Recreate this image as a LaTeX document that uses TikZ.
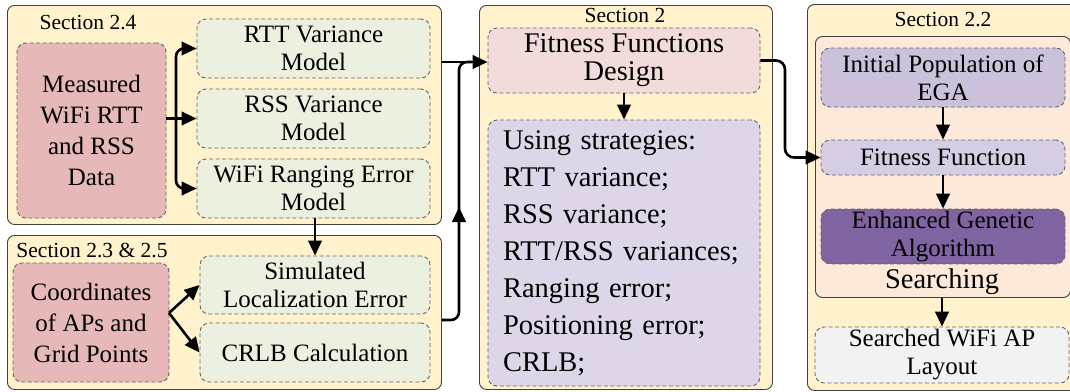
\documentclass[tikz,border=0pt]{standalone}
\usepackage{fontspec}
\setmainfont{Liberation Serif}
\usetikzlibrary{arrows.meta,calc}
\definecolor{secfill}{HTML}{FFF2CC}
\definecolor{secline}{HTML}{404040}
\definecolor{dashgray}{HTML}{666666}
\definecolor{redfill}{HTML}{E6B9B8}
\definecolor{greenfill}{HTML}{EBF1DE}
\definecolor{pinkfill}{HTML}{F2DCDB}
\definecolor{lavfill}{HTML}{DED6E8}
\definecolor{peachfill}{HTML}{FDE9D9}
\definecolor{purpfill}{HTML}{CCC1DA}
\definecolor{purplight}{HTML}{D6CCE3}
\definecolor{purpdark}{HTML}{8064A2}
\definecolor{grayfill}{HTML}{F2F2F2}
\newcommand{\fsBox}{\fontsize{25}{28}\selectfont}
\newcommand{\fsSec}{\fontsize{21.5}{24}\selectfont}
\newcommand{\fsBig}{\fontsize{28.5}{28}\selectfont}
\tikzset{
  sec/.style={draw=secline, fill=secfill, rounded corners=7pt, line width=0.9pt, inner sep=0pt},
  dbox/.style={draw=dashgray, dash pattern=on 4pt off 2.5pt, rounded corners=9pt, line width=0.9pt,
    align=center, inner sep=2pt, font=\fsBox},
  seclabel/.style={font=\fsSec, inner sep=0pt},
  conn/.style={line width=2.6pt, black},
  arr/.style={conn, -{Triangle[length=15pt,width=13.5pt]}},
}
\begin{document}
\begin{tikzpicture}[x=1pt,y=-1pt]
\fill[white] (0,0) rectangle (1070,391);
\useasboundingbox (0,0) rectangle (1070,391);

% section boxes
\node[sec, anchor=north west, minimum width=434pt, minimum height=219pt] (s24) at (7,5) {};
\node[sec, anchor=north west, minimum width=434pt, minimum height=154pt] (s235) at (7,235) {};
\node[sec, anchor=north west, minimum width=293pt, minimum height=384pt] (s2) at (479,5) {};
\node[sec, anchor=north west, minimum width=271pt, minimum height=386pt] (s22) at (807,4) {};

\node[seclabel] (l24) at (88,23) {Section 2.4};
\node[seclabel] (l235) at (92,250) {Section 2.3 \& 2.5};
\node[seclabel] (l2) at (625,15) {Section 2};
\node[seclabel] (l22) at (943,20) {Section 2.2};

% Section 2.4
\node[dbox, fill=redfill, minimum width=149pt, minimum height=175pt, font=\fontsize{25}{31}\selectfont] (meas) at (91.5,130.5) {Measured\\WiFi RTT\\and RSS\\Data};
\node[dbox, fill=greenfill, minimum width=233pt, minimum height=59pt] (rtt) at (313.5,48.5) {RTT Variance\\Model};
\node[dbox, fill=greenfill, minimum width=233pt, minimum height=59pt] (rss) at (313.5,118.5) {RSS Variance\\Model};
\node[dbox, fill=greenfill, minimum width=233pt, minimum height=59pt] (wre) at (313.5,188.5) {WiFi Ranging Error\\Model};

% Section 2.3 & 2.5
\node[dbox, fill=redfill, minimum width=156pt, minimum height=119pt, font=\fontsize{25}{31}\selectfont] (coord) at (91,322.5) {Coordinates\\of APs and\\Grid Points};
\node[dbox, fill=greenfill, minimum width=230pt, minimum height=58pt] (sim) at (315,285) {Simulated\\Localization Error};
\node[dbox, fill=greenfill, minimum width=230pt, minimum height=59pt] (crlb) at (315,352.5) {CRLB Calculation};

% Section 2
\node[dbox, fill=pinkfill, minimum width=272pt, minimum height=65pt, font=\fsBig] (ffd) at (624,60.5) {Fitness Functions\\Design};
\node[dbox, fill=lavfill, text width=242pt, inner xsep=15pt, minimum height=266pt, align=left,
  font=\fontsize{28.5}{37}\selectfont] (strat) at (624,253)
  {Using strategies:\\RTT variance;\\RSS variance;\\RTT/RSS variances;\\Ranging error;\\Positioning error;\\CRLB;};

% Section 2.2
\node[draw=secline, fill=peachfill, rounded corners=7pt, line width=0.9pt, anchor=north west,
  minimum width=255pt, minimum height=261pt, inner sep=0pt] (search) at (815,36) {};
\node[dbox, fill=purpfill, minimum width=244pt, minimum height=59pt] (init) at (943,77.5) {Initial Population of\\EGA};
\node[dbox, fill=purplight, minimum width=244pt, minimum height=35pt] (fit) at (943,157.5) {Fitness Function};
\node[dbox, fill=purpdark, minimum width=244pt, minimum height=53pt] (ega) at (943,236.5) {Enhanced Genetic\\Algorithm};
\node[font=\fsBig, inner sep=0pt] (stext) at (942,282) {Searching};
\node[dbox, fill=grayfill, minimum width=254pt, minimum height=56pt] (layout) at (942,355) {Searched WiFi AP\\Layout};

% connectors
\coordinate (f1) at (176,118.5);
\draw[conn] (meas.east |- f1) -- (f1);
\draw[arr] (f1) -- (rss.west);
\draw[arr, rounded corners=8pt] (f1) |- (rtt.west);
\draw[arr, rounded corners=8pt] (f1) |- (wre.west);

\draw[arr] (sim.north |- wre.south) -- (sim.north);

\coordinate (f2) at (169,313);
\draw[arr] (f2) -- (sim.west);
\draw[arr] (f2) -- (crlb.west);

\coordinate (j1) at (459,320);
\coordinate (j2) at (459,62);
\coordinate (j3) at (472,62);
\draw[arr] (s24.east |- j2) -- (j2 -| ffd.west);
\draw[conn, rounded corners=8pt] (s235.east |- j1) -- (j1) -- (j2) -- (j3);
\coordinate (m1) at (459,238);
\coordinate (m2) at (459,207);
\draw[arr] (m1) -- (m2);

\coordinate (k1) at (785,60.5);
\draw[arr, rounded corners=9pt] (ffd.east) -- (k1) |- (fit.west);

\draw[arr] (ffd.south) -- (strat.north);
\draw[arr] (init.south) -- (fit.north);
\draw[arr] (fit.south) -- (ega.north);
\draw[arr] (search.south -| layout.north) -- (layout.north);
\end{tikzpicture}
\end{document}
